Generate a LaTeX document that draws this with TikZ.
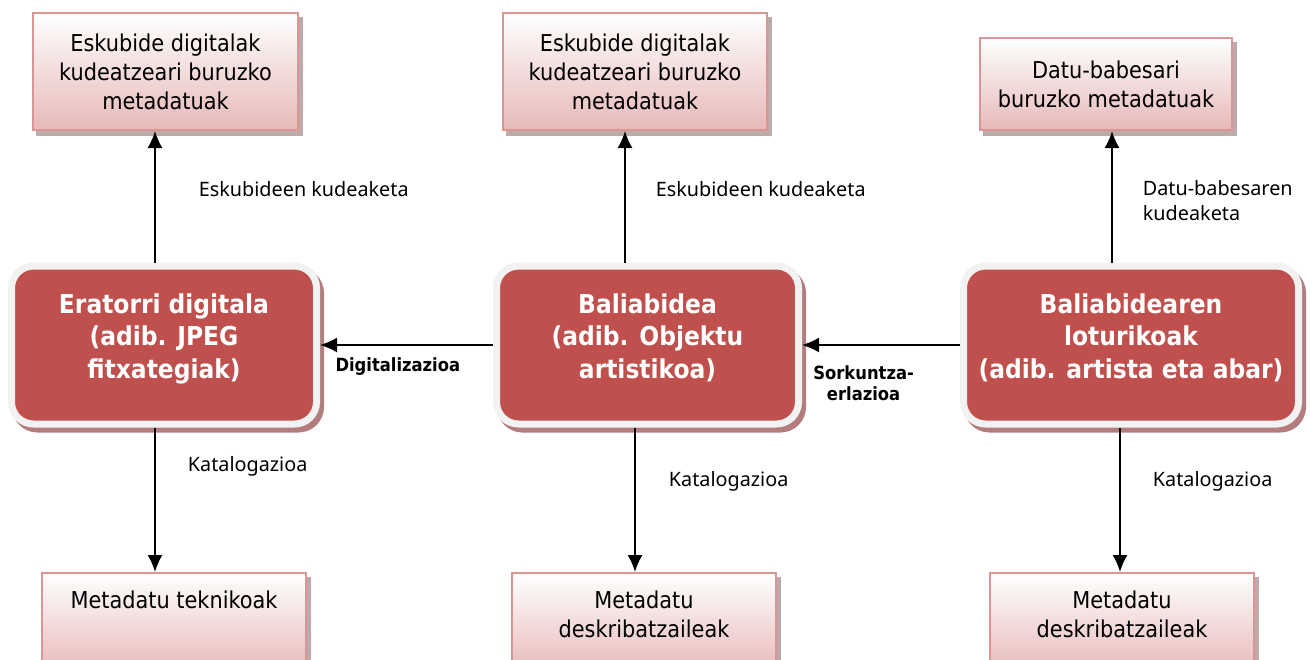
\documentclass[tikz,border=0pt]{standalone}
\usepackage{fontspec}
\usepackage{tikz}
\usetikzlibrary{arrows.meta}
\usetikzlibrary{shadows}
\newfontfamily\boxfont{DejaVu Sans Condensed}
\newfontfamily\lblfont{Noto Sans}
\definecolor{mainred}{HTML}{C0504D}
\definecolor{ringgray}{HTML}{F2F2F2}
\definecolor{mainshadow}{RGB}{180,125,125}
\definecolor{pinkbot}{HTML}{E6B9B8}
\definecolor{pinkline}{HTML}{D99694}
\definecolor{lightshadow}{RGB}{190,170,170}
\tikzset{
  mainbox/.style={rounded corners=11pt, fill=mainred, draw=ringgray, line width=3.5pt,
    text=white, align=center, inner sep=0pt, minimum height=79pt, text depth=9pt,
    font=\boxfont\bfseries\fontsize{13}{16.3}\selectfont,
    drop shadow={shadow xshift=2pt, shadow yshift=-2.5pt, fill=mainshadow, draw=mainshadow, line width=3.5pt, opacity=1}},
  lightbox/.style={draw=pinkline, line width=1pt, top color=white, bottom color=pinkbot,
    inner sep=0pt, align=center, font=\boxfont\fontsize{11.6}{14.5}\selectfont,
    drop shadow={shadow xshift=2pt, shadow yshift=-2.5pt, fill=lightshadow, draw=lightshadow, line width=1pt, opacity=1}},
  boxtext/.style={inner sep=0pt, align=center, anchor=north, font=\boxfont\fontsize{11.6}{14.5}\selectfont},
  lbl/.style={inner sep=0pt, anchor=west, align=left, font=\lblfont\fontsize{9.9}{12.5}\selectfont},
  boldlbl/.style={inner sep=0pt, align=center, font=\boxfont\bfseries\fontsize{9.1}{10.5}\selectfont},
  flow/.style={-{Latex[length=8.5pt,width=7.5pt]}, line width=0.9pt}
}
\begin{document}
\begin{tikzpicture}[x=0.5pt,y=-0.5pt]
\useasboundingbox (0,0) rectangle (1310,659);

\node[mainbox, minimum width=152.5pt] (ml) at (164,345) {Eratorri digitala\\(adib. JPEG\\fitxategiak)};
\node[mainbox, minimum width=151pt] (mm) at (647.5,345) {Baliabidea\\(adib. Objektu\\artistikoa)};
\node[mainbox, minimum width=167.5pt] (mr) at (1131,345) {Baliabidearen\\loturikoak\\(adib. artista eta abar)};

\node[lightbox, minimum width=132.5pt, minimum height=58.5pt] (tl) at (165.5,71.5) {Eskubide digitalak\\kudeatzeari buruzko\\metadatuak};
\node[lightbox, minimum width=132pt, minimum height=58.5pt] (tm) at (635,71.5) {Eskubide digitalak\\kudeatzeari buruzko\\metadatuak};
\node[lightbox, minimum width=126pt, minimum height=46pt] (tr) at (1106,84) {Datu-babesari\\buruzko metadatuak};

\node[lightbox, minimum width=132pt, minimum height=50pt, anchor=north] (bl) at (174,572) {};
\node[boxtext] (bltext) at ([yshift=-9pt]bl.north) {Metadatu teknikoak};
\node[lightbox, minimum width=132pt, minimum height=50pt, anchor=north] (bm) at (644,572) {};
\node[boxtext] (bmtext) at ([yshift=-9pt]bm.north) {Metadatu\\deskribatzaileak};
\node[lightbox, minimum width=132pt, minimum height=50pt, anchor=north] (br) at (1122,572) {};
\node[boxtext] (brtext) at ([yshift=-9pt]br.north) {Metadatu\\deskribatzaileak};

\draw[flow] ([xshift=-4.5pt]ml.north) -- node[lbl, pos=.56, xshift=21.5pt]{Eskubideen kudeaketa} ([xshift=-4.5pt]ml.north |- tl.south);
\draw[flow] ([xshift=-11.25pt]mm.north) -- node[lbl, pos=.56, xshift=15pt]{Eskubideen kudeaketa} ([xshift=-11.25pt]mm.north |- tm.south);
\draw[flow] ([xshift=-9.5pt]mr.north) -- node[lbl, pos=.47, xshift=15pt]{Datu-babesaren\\kudeaketa} ([xshift=-9.5pt]mr.north |- tr.south);

\draw[flow] ([xshift=-4.5pt]ml.south) -- node[lbl, pos=.27, xshift=16pt]{Katalogazioa} ([xshift=-4.5pt]ml.south |- bl.north);
\draw[flow] ([xshift=-6.25pt]mm.south) -- node[lbl, pos=.37, xshift=16.5pt]{Katalogazioa} ([xshift=-6.25pt]mm.south |- bm.north);
\draw[flow] ([xshift=-5.5pt]mr.south) -- node[lbl, pos=.37, xshift=16pt]{Katalogazioa} ([xshift=-5.5pt]mr.south |- br.north);

\draw[flow] (mm.west) -- node[boldlbl, pos=.55, yshift=-11pt]{Digitalizazioa} (ml.east);
\draw[flow] (mr.west) -- node[boldlbl, pos=.61, yshift=-19pt]{Sorkuntza-\\erlazioa} (mm.east);
\end{tikzpicture}
\end{document}
